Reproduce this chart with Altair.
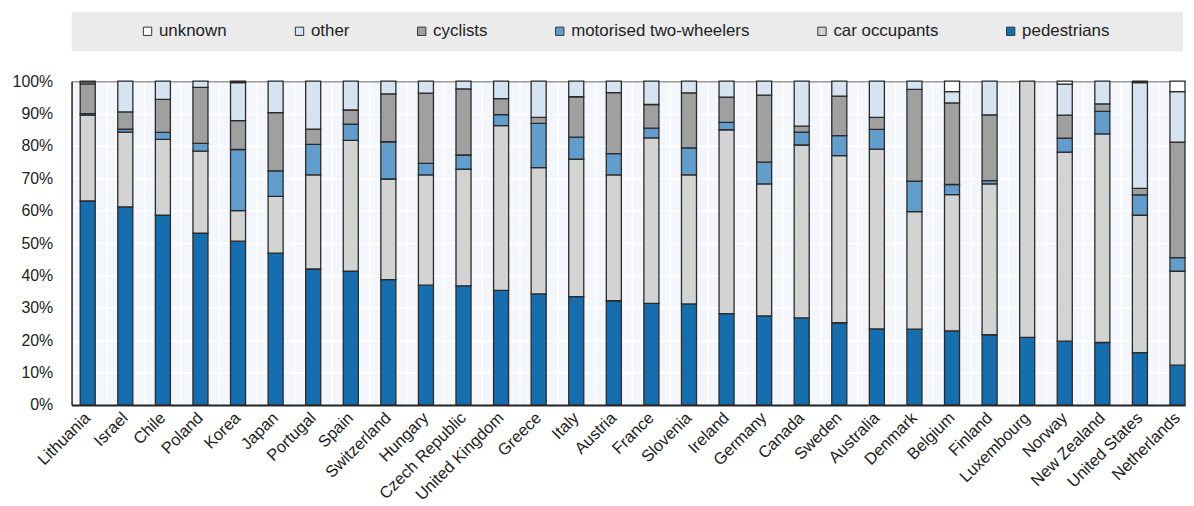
import altair as alt
import pandas as pd

countries = ["Lithuania", "Israel", "Chile", "Poland", "Korea", "Japan", "Portugal", "Spain",
             "Switzerland", "Hungary", "Czech Republic", "United Kingdom", "Greece", "Italy",
             "Austria", "France", "Slovenia", "Ireland", "Germany", "Canada", "Sweden",
             "Australia", "Denmark", "Belgium", "Finland", "Luxembourg", "Norway",
             "New Zealand", "United States", "Netherlands"]

pedestrians = [63.0, 61.2, 58.6, 53.1, 50.6, 46.9, 42.0, 41.3, 38.7, 37.0, 36.8, 35.4, 34.3, 33.5,
               32.2, 31.4, 31.2, 28.2, 27.5, 26.9, 25.4, 23.5, 23.4, 22.9, 21.7, 20.9, 19.7,
               19.3, 16.2, 12.3]
car_occupants = [26.5, 23.1, 23.4, 25.3, 9.4, 17.5, 29.1, 40.4, 31.1, 34.1, 36.0, 50.9, 39.0, 42.4,
                 38.9, 51.1, 39.9, 56.8, 40.8, 53.4, 51.6, 55.5, 36.3, 42.1, 46.6, 79.1, 58.4,
                 64.4, 42.4, 29.0]
motorised = [0.5, 0.9, 2.2, 2.4, 18.9, 7.9, 9.4, 5.0, 11.5, 3.5, 4.4, 3.4, 13.7, 6.8,
             6.5, 3.0, 8.3, 2.3, 6.7, 4.0, 6.2, 6.1, 9.4, 3.1, 1.0, 0.0, 4.3,
             7.0, 6.3, 4.2]
cyclists = [9.2, 5.3, 10.2, 17.3, 8.9, 18.0, 4.7, 4.4, 14.8, 21.7, 20.4, 4.9, 1.8, 12.5,
            18.9, 7.3, 17.0, 7.8, 20.7, 1.8, 12.2, 3.7, 28.4, 25.2, 20.3, 0.0, 7.1,
            2.3, 2.0, 35.7]
other = [0.6, 9.5, 5.6, 1.9, 11.8, 9.7, 14.8, 8.9, 3.9, 3.7, 2.4, 5.4, 11.2, 4.8,
         3.5, 7.2, 3.6, 4.9, 4.3, 13.9, 4.6, 11.2, 2.5, 3.5, 10.4, 0.0, 9.6,
         7.0, 32.7, 15.6]
unknown = [0.2, 0.0, 0.0, 0.0, 0.4, 0.0, 0.0, 0.0, 0.0, 0.0, 0.0, 0.0, 0.0, 0.0,
           0.0, 0.0, 0.0, 0.0, 0.0, 0.0, 0.0, 0.0, 0.0, 3.2, 0.0, 0.0, 0.9,
           0.0, 0.4, 3.2]

stack_order = ["pedestrians", "car occupants", "motorised two-wheelers", "cyclists", "other", "unknown"]
legend_order = ["unknown", "other", "cyclists", "motorised two-wheelers", "car occupants", "pedestrians"]
legend_colors = ["#ffffff", "#d5e4f0", "#a0a0a0", "#629dcb", "#d3d3d3", "#176eae"]

series = [pedestrians, car_occupants, motorised, cyclists, other, unknown]
rows = []
for i, c in enumerate(countries):
    for k, (cat, s) in enumerate(zip(stack_order, series)):
        if s[i] > 0:
            rows.append({"country": c, "category": cat, "value": s[i], "order": k})
df = pd.DataFrame(rows)

W = 1121
H = 326
FONT = "Liberation Sans"

bg = alt.Chart(pd.DataFrame({"a": [0]})).mark_rect(color="#ebebeb").encode(
    x=alt.value(0), x2=alt.value(W - 2), y=alt.value(-70), y2=alt.value(-30)
)

bars = alt.Chart(df).mark_bar(stroke="#2a2a2a", strokeWidth=1.3).encode(
    x=alt.X("country:N", sort=countries, title=None,
            scale=alt.Scale(paddingInner=0.6, paddingOuter=0.115, align=1),
            axis=alt.Axis(labelAngle=-45, labelAlign="right", labelBaseline="middle",
                          labelFontSize=16.5, labelPadding=10, ticks=False,
                          bandPosition=-0.75, grid=True, gridColor="white", gridWidth=1.5,
                          domainColor="#222222", domainWidth=2)),
    y=alt.Y("value:Q", stack="zero", title=None,
            scale=alt.Scale(domain=[0, 100], nice=False),
            axis=alt.Axis(values=list(range(0, 101, 10)), labelExpr="datum.value + '%'",
                          labelFontSize=16, labelPadding=19, ticks=False,
                          gridColor={"condition": {"test": "datum.value === 100", "value": "#9a9a9a"},
                                     "value": "white"},
                          gridWidth=1.5, domainColor="#222222", domainWidth=1.5)),
    color=alt.Color("category:N",
                    scale=alt.Scale(domain=legend_order, range=legend_colors),
                    legend=alt.Legend(orient="none", legendX=68, legendY=-59, direction="horizontal",
                                      columns=6, title=None, symbolType="square", symbolSize=70,
                                      symbolStrokeColor="#333333", symbolStrokeWidth=1,
                                      labelFontSize=17, labelFont=FONT, labelColor="#222222",
                                      labelLimit=0, labelOffset=3, columnPadding=64, zindex=1)),
    order=alt.Order("order:Q"),
)

chart = alt.layer(bg, bars).properties(
    width=W, height=H,
    padding={"left": 4, "top": 2, "right": 0, "bottom": 0},
).configure_view(
    fill="#f3f6fb", strokeWidth=0
).configure_axis(
    labelFont=FONT, labelColor="#222222"
)

chart.save("out.html", embed_options={"renderer": "svg", "actions": False})
